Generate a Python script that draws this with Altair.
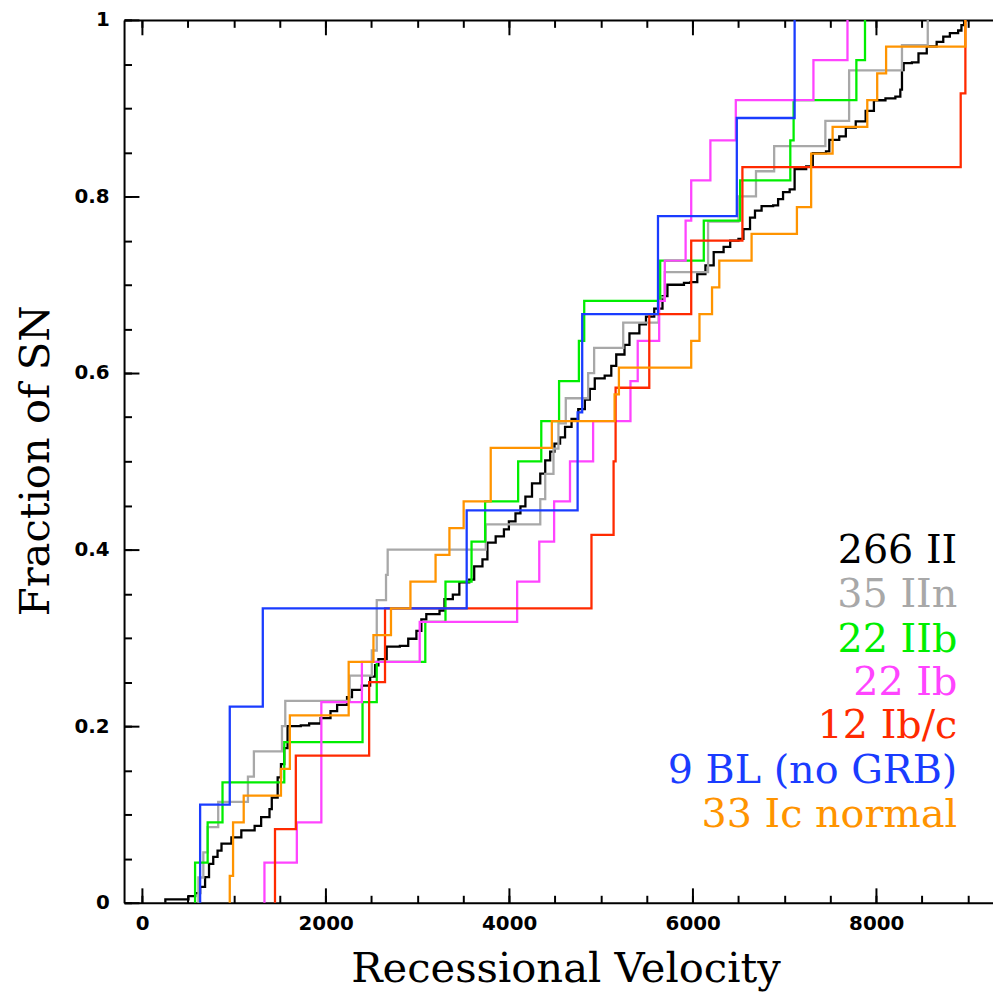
import altair as alt
import pandas as pd

# ---------------- data ----------------
names = ["266 II", "35 IIn", "22 IIb", "22 Ib", "12 Ib/c", "9 BL (no GRB)", "33 Ic normal"]
colors = ["#000000", "#a8a8a8", "#00ee00", "#ff44ff", "#ff2a00", "#1a3cff", "#ff9400"]

# Type II (266 SNe): breakpoints of the cumulative curve (velocity, fraction)
ii_v = [253, 505, 578, 632, 686, 729, 775, 822, 865, 973, 1081, 1226, 1297, 1388, 1413,
        1477, 1513, 1549, 1585, 1729, 1820, 1945, 2053, 2125, 2233, 2287, 2395, 2485,
        2539, 2575, 2665, 2809, 2900, 2989, 3043, 3097, 3241, 3295, 3386, 3457, 3565,
        3619, 3709, 3763, 3853, 3943, 3997, 4069, 4123, 4177, 4249, 4339, 4393, 4447,
        4494, 4555, 4609, 4680, 4753, 4825, 4879, 4933, 5041, 5113, 5167, 5257, 5311,
        5419, 5491, 5581, 5671, 5725, 5905, 5977, 6050, 6139, 6229, 6337, 6409, 6499,
        6553, 6625, 6679, 6751, 6877, 6931, 6985, 7057, 7111, 7237, 7309, 7453, 7489,
        7597, 7669, 7777, 7885, 7975, 8101, 8209, 8263, 8281, 8299, 8389, 8461, 8551,
        8659, 8731, 8803, 8893, 8929, 8958]
ii_f = [0.0038, 0.0075, 0.011, 0.018, 0.029, 0.044, 0.052, 0.059, 0.067, 0.074, 0.082,
        0.087, 0.097, 0.106, 0.119, 0.142, 0.157, 0.175, 0.200, 0.201, 0.203, 0.209,
        0.217, 0.224, 0.233, 0.241, 0.246, 0.256, 0.269, 0.276, 0.290, 0.291, 0.299,
        0.308, 0.321, 0.327, 0.331, 0.344, 0.349, 0.363, 0.366, 0.381, 0.389, 0.408,
        0.415, 0.423, 0.432, 0.441, 0.449, 0.460, 0.475, 0.486, 0.501, 0.511, 0.520,
        0.527, 0.539, 0.548, 0.559, 0.570, 0.582, 0.594, 0.597, 0.608, 0.621, 0.632,
        0.645, 0.655, 0.664, 0.673, 0.687, 0.700, 0.702, 0.703, 0.712, 0.722, 0.737,
        0.743, 0.750, 0.752, 0.763, 0.776, 0.784, 0.789, 0.790, 0.797, 0.805, 0.808,
        0.831, 0.834, 0.849, 0.851, 0.864, 0.868, 0.878, 0.885, 0.897, 0.909, 0.911,
        0.913, 0.921, 0.943, 0.951, 0.952, 0.962, 0.970, 0.975, 0.981, 0.985, 0.988,
        0.994, 1.000]

# individual velocities of the smaller samples
iin_v = [613, 667, 714, 829, 1153, 1218, 1524, 1560, 2262, 2503, 2557, 2557, 2658, 2676,
         3745, 4339, 4393, 4483, 4537, 4617, 4861, 4926, 5243, 5628, 5696, 6168, 6168,
         6499, 6690, 6888, 7446, 7705, 7705, 8281, 8562]
iib_v = [577, 714, 876, 1549, 2402, 2557, 3086, 3306, 3590, 3738, 4098, 4350, 4544, 4760,
         4818, 5646, 6121, 6517, 7064, 7100, 7784, 7878]
ib_v = [1333, 1686, 1953, 1953, 1953, 2395, 3025, 4087, 4328, 4490, 4663, 4915, 5322,
        5401, 5635, 5696, 5923, 5984, 6193, 6470, 7316, 7687]
ibc_v = [1448, 1675, 2474, 2647, 4897, 5138, 5160, 5527, 5984, 6542, 8921, 8972]
bl_v = [632, 955, 1315, 3537, 4746, 4796, 5622, 6481, 7111]
ic_v = [955, 991, 991, 1107, 1513, 1610, 1610, 2251, 2251, 2521, 2712, 2924, 3198, 3349,
        3504, 3799, 3799, 4465, 5149, 5196, 5984, 6074, 6211, 6290, 6642, 7136, 7291,
        7291, 7525, 7903, 8011, 8108, 8972]

x_major = [0, 2000, 4000, 6000, 8000]
x_minor = [0, 500, 1000, 1500, 2000, 2500, 3000, 3500, 4000, 4500, 5000, 5500, 6000,
           6500, 7000, 7500, 8000, 8500, 9000]
y_major = [0, 0.2, 0.4, 0.6, 0.8, 1.0]
y_minor = [0, 0.05, 0.1, 0.15, 0.2, 0.25, 0.3, 0.35, 0.4, 0.45, 0.5, 0.55, 0.6, 0.65,
           0.7, 0.75, 0.8, 0.85, 0.9, 0.95, 1.0]

# ---------------- build step tables ----------------
rows = [dict(series=names[0], v=ii_v[0], f=0.0, idx=0)]
for i, (v, f) in enumerate(zip(ii_v, ii_f), 1):
    rows.append(dict(series=names[0], v=v, f=f, idx=i))
for name, vals in zip(names[1:], [iin_v, iib_v, ib_v, ibc_v, bl_v, ic_v]):
    s = sorted(vals)
    n = len(s)
    rows.append(dict(series=name, v=s[0], f=0.0, idx=0))
    for i, v in enumerate(s, 1):
        rows.append(dict(series=name, v=v, f=i / n, idx=i))
df = pd.DataFrame(rows)

xs = alt.Scale(domain=[-197, 9273], nice=False, zero=False)
ys = alt.Scale(domain=[0, 1], nice=False, zero=False)
cs = alt.Scale(domain=names, range=colors)

dummy = pd.DataFrame({"v": [0], "f": [0]})


def tick_axis(orient, values, size):
    return alt.Axis(orient=orient, offset=-size, values=values, tickSize=size, tickWidth=2,
                    tickColor="black", labels=False, domain=False, grid=False, title=None)


main_x = alt.Axis(orient="bottom", values=x_major, format="d", ticks=False, tickSize=0,
                  domain=True, domainColor="black", domainWidth=2, grid=False,
                  labelFont="DejaVu Sans", labelFontSize=20, labelFontWeight="bold",
                  labelColor="black", labelPadding=11, labelFlush=False, labelOverlap=False,
                  title="Recessional Velocity", titleFont="DejaVu Serif", titleFontSize=42,
                  titleFontWeight="normal", titleColor="black", titleX=445, titleY=79,
                  titleBaseline="alphabetic", titleAlign="center")
main_y = alt.Axis(orient="left", values=y_major, format="~g", ticks=False, tickSize=0,
                  domain=True, domainColor="black", domainWidth=2, grid=False,
                  labelFont="DejaVu Sans", labelFontSize=20, labelFontWeight="bold",
                  labelColor="black", labelPadding=15, labelFlush=False, labelOverlap=False,
                  title="Fraction of SN", titleFont="DejaVu Serif", titleFontSize=42,
                  titleFontWeight="normal", titleColor="black", titleAngle=270,
                  titleX=-76, titleY=444, titleBaseline="alphabetic", titleAlign="center")

lines = alt.Chart(df).mark_line(interpolate="step-after", strokeWidth=2.3).encode(
    x=alt.X("v:Q", scale=xs, axis=main_x),
    y=alt.Y("f:Q", scale=ys, axis=main_y),
    color=alt.Color("series:N", scale=cs, legend=None),
    order="idx:Q",
)

bottom_major = alt.Chart(dummy).mark_point(opacity=0).encode(
    x=alt.X("v:Q", scale=xs, axis=tick_axis("bottom", x_major, 15)),
    y=alt.Y("f:Q", scale=ys, axis=tick_axis("left", y_major, 15)),
)
bottom_minor = alt.Chart(dummy).mark_point(opacity=0).encode(
    x=alt.X("v:Q", scale=xs, axis=tick_axis("bottom", x_minor, 7.5)),
    y=alt.Y("f:Q", scale=ys, axis=tick_axis("left", y_minor, 7.5)),
)
top_domain = alt.Chart(dummy).mark_point(opacity=0).encode(
    x=alt.X("v:Q", scale=xs, axis=alt.Axis(orient="top", ticks=False, labels=False,
                                            domain=True, domainColor="black", domainWidth=2,
                                            grid=False, title=None)),
)
top_major = alt.Chart(dummy).mark_point(opacity=0).encode(
    x=alt.X("v:Q", scale=xs, axis=tick_axis("top", x_major, 15)),
)
top_minor = alt.Chart(dummy).mark_point(opacity=0).encode(
    x=alt.X("v:Q", scale=xs, axis=tick_axis("top", x_minor, 7.5)),
)

legend_y = [547.3, 592.3, 637.3, 680.7, 724, 769, 814]
texts = []
for name, ly in zip(names, legend_y):
    t = alt.Chart(pd.DataFrame({"series": [name]})).mark_text(
        align="right", baseline="alphabetic", font="DejaVu Serif", fontSize=40
    ).encode(
        x=alt.value(840), y=alt.value(ly), text="series:N",
        color=alt.Color("series:N", scale=cs, legend=None),
    )
    texts.append(t)

chart = alt.layer(lines, bottom_major, bottom_minor, top_domain, top_major, top_minor,
                  *texts).resolve_axis(x="independent", y="independent").properties(
    width=876, height=890,
    autosize=alt.AutoSizeParams(type="none"),
    padding={"left": 117, "top": 8, "right": 0, "bottom": 86},
).configure_view(stroke=None).configure(background="white")

chart.save("out.html", embed_options={"renderer": "svg", "actions": False})
